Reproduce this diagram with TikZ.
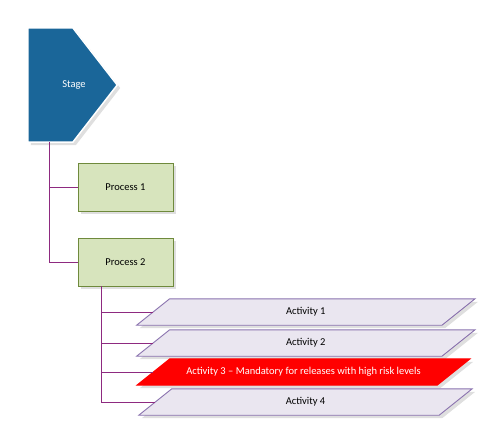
\documentclass[tikz,border=0pt]{standalone}
\usepackage{fontspec}
\setmainfont{Carlito}
\usetikzlibrary{shadows,calc}
\definecolor{stageblue}{HTML}{1A6699}
\definecolor{procfill}{HTML}{D7E4BD}
\definecolor{procline}{HTML}{6F8A3C}
\definecolor{actfill}{HTML}{EAE6F0}
\definecolor{actline}{HTML}{8A72AE}
\definecolor{conn}{HTML}{8E2A80}
\tikzset{
  shd/.style={drop shadow={opacity=0.25,shadow xshift=3pt,shadow yshift=-3pt}},
  procbox/.style={draw=procline,fill=procfill,line width=0.9pt,minimum width=95pt,minimum height=48pt,inner sep=0pt,shd,font=\fontsize{10.5}{12}\selectfont},
  actbody/.style={minimum height=26pt,inner sep=0pt,font=\fontsize{10.5}{12}\selectfont},
  connector/.style={draw=conn,line width=0.9pt},
}
\begin{document}
\begin{tikzpicture}[x=1pt,y=-1pt]
\useasboundingbox (0,0) rectangle (501,442);
% Stage
\node[minimum width=89pt,minimum height=114pt,inner sep=0pt] (stage) at (72.5,85) {};
\path[fill=stageblue,draw=white,line width=1.5pt,line join=miter,shd]
  (stage.north west) -- ++(45,0) -- (stage.east) -- ($(stage.south west)+(45,0)$) -- (stage.south west) -- cycle;
\node[text=white,font=\fontsize{10.5}{12}\selectfont] (stagetext) at (74,85) {Stage};
% Processes
\node[procbox] (p1) at (125.5,187) {Process 1};
\node[procbox] (p2) at (125.5,262) {Process 2};
% Activities
\node[actbody,minimum width=305pt] (a1) at (305.8,312) {};
\node[actbody,minimum width=305pt] (a2) at (305.8,343) {};
\node[actbody,minimum width=300pt] (a3) at (303.5,372) {};
\node[actbody,minimum width=300pt] (a4) at (305.5,402) {};
\foreach \a/\f/\d in {a1/actfill/actline,a2/actfill/actline,a3/red/red,a4/actfill/actline}{
  \path[fill=\f,draw=\d,line width=0.9pt,shd]
    ($(\a.north west)+(16.5,0)$) -- ($(\a.north east)+(16.5,0)$) --
    ($(\a.south east)-(16.5,0)$) -- ($(\a.south west)-(16.5,0)$) -- cycle;
}
\node[font=\fontsize{10.5}{12}\selectfont] (t1) at (a1.center) {Activity 1};
\node[font=\fontsize{10.5}{12}\selectfont] (t2) at (a2.center) {Activity 2};
\node[font=\fontsize{10.5}{12}\selectfont,text=white] (t3) at (a3.center) {Activity 3 – Mandatory for releases with high risk levels};
\node[font=\fontsize{10.5}{12}\selectfont] (t4) at (a4.center) {Activity 4};
% Connectors
\coordinate (sb) at ($(stage.south west)+(22,0)$);
\coordinate (pb) at ($(p2.south west)+(24,0)$);
\draw[connector] (sb) |- (p1.west);
\draw[connector] (sb) |- (p2.west);
\draw[connector] (pb) |- (a1.west);
\draw[connector] (pb) |- (a2.west);
\draw[connector] (pb) |- (a3.west);
\draw[connector] (pb) |- (a4.west);
\end{tikzpicture}
\end{document}
